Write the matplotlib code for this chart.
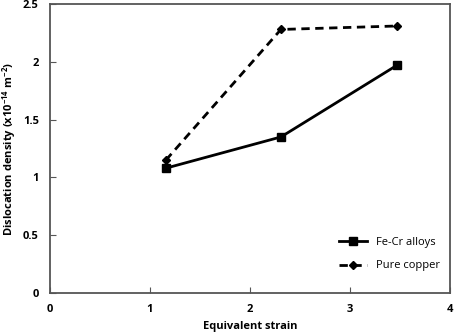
import matplotlib
matplotlib.use('Agg')
from matplotlib import pyplot as plt

# Data.
strain = [1.16, 2.31, 3.47]
fecr = [1.08, 1.35, 1.97]
copper = [1.15, 2.28, 2.31]
x_ticks = [0, 1, 2, 3, 4]
y_ticks = [0, 0.5, 1, 1.5, 2, 2.5]

plt.rcParams['font.family'] = ['Open Sans', 'DejaVu Sans']
plt.rcParams['mathtext.fontset'] = 'custom'
plt.rcParams['mathtext.bf'] = 'Open Sans:bold'
plt.rcParams['mathtext.rm'] = 'Open Sans'
plt.rcParams['mathtext.default'] = 'bf'

fig = plt.figure(figsize=(4.54, 3.36), dpi=100)
ax = fig.add_axes([0.110, 0.128, 0.881, 0.860])

ax.plot(strain, fecr, c='black', lw=2, marker='s', ms=6, label='Fe-Cr alloys')
ax.plot(strain, copper, c='black', lw=2, ls=(0, (3, 2)), marker='D', ms=4.5,
        label='Pure copper')

ax.set_xlim(0, 4)
ax.set_ylim(0, 2.5)
ax.set_xticks(x_ticks)
ax.set_xticklabels([str(t) for t in x_ticks])
ax.set_yticks(y_ticks)
ax.set_yticklabels(['0', '0.5', '1', '1.5', '2', '2.5'])
ax.tick_params(axis='both', direction='in', length=4, color='#555555',
               labelsize=8, pad=8)
for lbl in ax.get_xticklabels() + ax.get_yticklabels():
    lbl.set_fontweight('bold')
for s in ax.spines.values():
    s.set_color('#555555')
    s.set_linewidth(1.3)

ax.set_xlabel('Equivalent strain', fontsize=8, fontweight='bold', labelpad=4)
ax.set_ylabel('Dislocation density (x10$^{-14}$ m$^{-2}$)', fontsize=8,
              fontweight='bold')
ax.yaxis.set_label_coords(-0.08, 0.5)

ax.legend(loc='lower right', frameon=False, fontsize=8, handlelength=2.5,
          bbox_to_anchor=(1.0, 0.04), labelspacing=1.1)

fig.savefig('out.png', dpi=100)
